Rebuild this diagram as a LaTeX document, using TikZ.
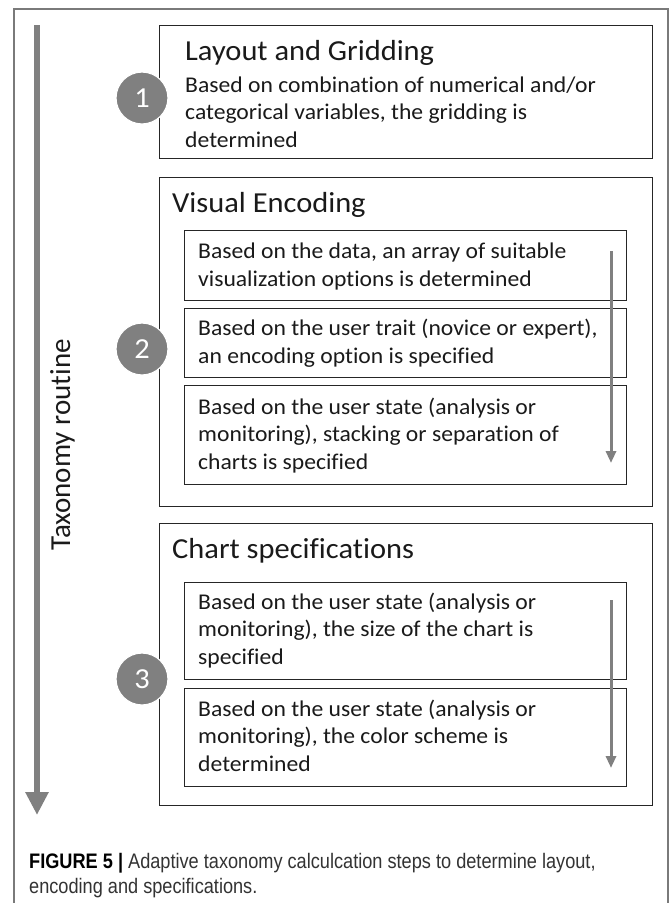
\documentclass[tikz,border=0pt]{standalone}
\usepackage{fontspec}
\usepackage{graphicx}
\setmainfont{Carlito}[FakeStretch=1.05,Ligatures=NoCommon]
\newfontfamily\plaincal{Carlito}[Ligatures=NoCommon]
\newfontfamily\capfont{Liberation Sans}
\usetikzlibrary{arrows.meta}
\definecolor{arrowgray}{HTML}{808080}
\definecolor{boxline}{HTML}{262626}
\definecolor{framegray}{HTML}{7a7a7a}
\definecolor{txt}{HTML}{1a1a1a}
\begin{document}
\begin{tikzpicture}[x=1pt,y=-1pt,
  boxrect/.style={draw=boxline, line width=1.4pt, rectangle, inner sep=0pt, anchor=north west},
  numcirc/.style={circle, fill=arrowgray, draw=white, line width=1.2pt, minimum size=52pt, inner sep=0pt, text=white, font=\fontsize{29}{30}\selectfont},
  titletext/.style={anchor=base west, inner sep=0pt, font=\fontsize{29}{32}\selectfont, text=txt},
  bodytext/.style={anchor=base west, inner sep=0pt, align=left, font=\fontsize{22.5}{27.5}\selectfont, text=txt},
  bigarrow/.style={draw=arrowgray, line width=6pt, -{Triangle[width=22pt,length=23pt]}},
  smallarrow/.style={draw=arrowgray, line width=3pt, -{Triangle[width=10pt,length=12pt]}},
]
\useasboundingbox (0,0) rectangle (670,903);
\fill[white] (0,0) rectangle (670,903);
% outer frame
\draw[framegray, line width=1.3pt] (14,903) -- (14,9) -- (668,9) -- (668,903);

% big arrow
\coordinate (bigs) at (37,25);
\coordinate (bige) at (37,815);
\draw[bigarrow] (bigs) -- (bige);
\node[rotate=90, anchor=base, inner sep=0pt, font=\plaincal\fontsize{29}{30}\selectfont, text=txt] (tax) at (70,445) {Taxonomy routine};

% box 1
\node[boxrect, minimum width=493pt, minimum height=133pt] (box1) at (159,25) {};
\node[titletext] (t1) at (185,60) {Layout and Gridding};
\node[bodytext] (d1) at (185,147) {Based on combination of numerical and/or\\categorical variables, the gridding is\\determined};

% box 2
\node[boxrect, minimum width=493pt, minimum height=329pt] (box2) at (159,177) {};
\node[titletext] (t2) at (172,212) {Visual Encoding};
\node[boxrect, minimum width=442pt, minimum height=70pt] (b21) at (184,230) {};
\node[boxrect, minimum width=442pt, minimum height=69pt] (b22) at (184,308) {};
\node[boxrect, minimum width=442pt, minimum height=99pt] (b23) at (184,385) {};
\node[bodytext] (d21) at (198,286) {Based on the data, an array of suitable\\visualization options is determined};
\node[bodytext] (d22) at (198,363) {Based on the user trait (novice or expert),\\an encoding option is specified};
\node[bodytext] (d23) at (198,469) {Based on the user state (analysis or\\monitoring), stacking or separation of\\charts is specified};
\coordinate (a2s) at (611,251);
\coordinate (a2e) at (611,463);
\draw[smallarrow] (a2s) -- (a2e);

% box 3
\node[boxrect, minimum width=493pt, minimum height=282pt] (box3) at (159,523) {};
\node[titletext] (t3) at (172,558) {Chart specifications};
\node[boxrect, minimum width=442pt, minimum height=97pt] (b31) at (184,582) {};
\node[boxrect, minimum width=442pt, minimum height=98pt] (b32) at (184,688) {};
\node[bodytext] (d31) at (198,664) {Based on the user state (analysis or\\monitoring), the size of the chart is\\specified};
\node[bodytext] (d32) at (198,771) {Based on the user state (analysis or\\monitoring), the color scheme is\\determined};
\coordinate (a3s) at (611,600);
\coordinate (a3e) at (611,768);
\draw[smallarrow] (a3s) -- (a3e);

% numbered circles
\node[numcirc] (n1) at (142,98) {1};
\node[numcirc] (n2) at (142,349) {2};
\node[numcirc] (n3) at (142,679) {3};

% caption
\node[anchor=base west, inner sep=0pt] (cap1) at (29,868) {\scalebox{0.865}[1]{\capfont\fontsize{21}{25}\selectfont\textbf{FIGURE 5 |} \textcolor{black!80}{Adaptive taxonomy calculcation steps to determine layout,}}};
\node[anchor=base west, inner sep=0pt] (cap2) at (29,893) {\scalebox{0.865}[1]{\capfont\fontsize{21}{25}\selectfont\textcolor{black!80}{encoding and specifications.}}};
\end{tikzpicture}
\end{document}
